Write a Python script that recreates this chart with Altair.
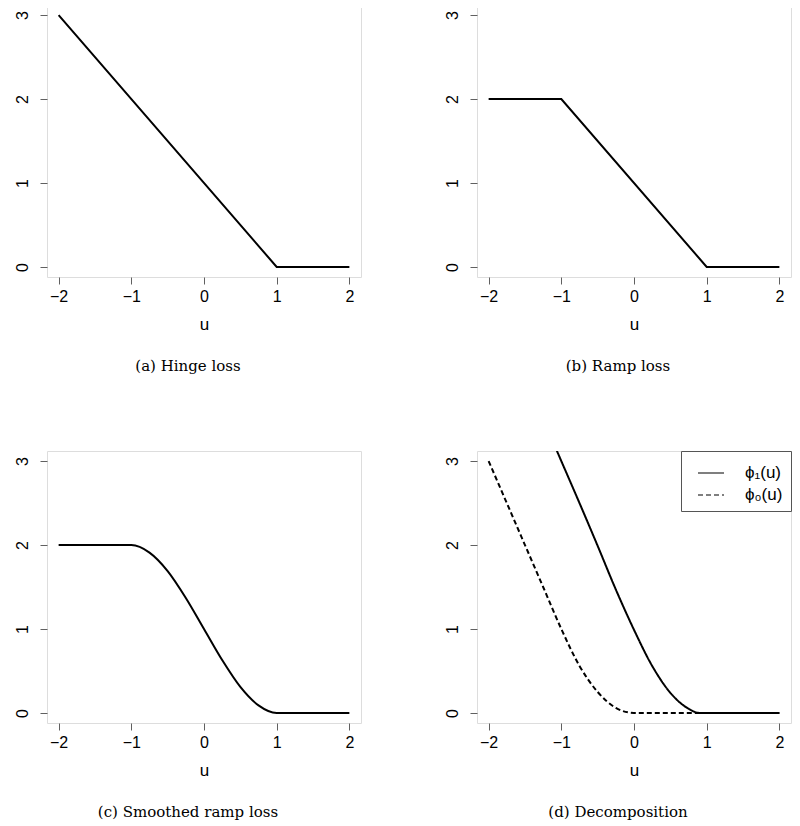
import altair as alt
import pandas as pd

# ---- data ----
u_hinge = [-2, 1, 2]
v_hinge = [3, 0, 0]

u_ramp = [-2, -1, 1, 2]
v_ramp = [2, 2, 0, 0]

u_smooth = [-2, -1, -0.75, -0.5, -0.25, 0, 0.25, 0.5, 0.75, 1, 2]
v_smooth = [2, 2, 1.91, 1.69, 1.37, 1.0, 0.63, 0.31, 0.09, 0, 0]

u_phi1 = [-1.25, -1, -0.75, -0.5, -0.25, 0, 0.25, 0.5, 0.75, 0.9, 2]
v_phi1 = [3.50, 3.00, 2.50, 1.99, 1.47, 0.99, 0.56, 0.24, 0.05, 0, 0]

u_phi0 = [-2, -1.75, -1.5, -1.25, -1, -0.75, -0.5, -0.25, 0, 2]
v_phi0 = [3, 2.5, 2.0, 1.5, 1.0, 0.56, 0.25, 0.06, 0, 0]

captions = ["(a) Hinge loss", "(b) Ramp loss", "(c) Smoothed ramp loss", "(d) Decomposition"]
series_names = ["ϕ₁(u)", "ϕ₀(u)"]
x_ticks = [-2, -1, 0, 1, 2]
y_ticks = [0, 1, 2, 3]

W, H = 314, 272
SANS = "Liberation Sans"
SERIF = "DejaVu Serif"
GRAY = "#606060"

xs = alt.Scale(domain=[-2.16, 2.16], nice=False, zero=False)
ys = alt.Scale(domain=[-0.12, 3.12], nice=False, zero=False)
xax = alt.Axis(values=x_ticks, title="u", format="d", grid=False, domain=False,
               tickColor=GRAY, tickSize=7, labelPadding=4, labelFont=SANS,
               labelFontSize=16, labelColor="black", titleFont=SANS,
               titleFontSize=17, titleFontWeight="normal", titleColor="black",
               titlePadding=12)
yax = alt.Axis(values=y_ticks, title=None, format="d", grid=False, domain=False,
               tickColor=GRAY, tickSize=7, labelPadding=13, labelFont=SANS,
               labelFontSize=16, labelColor="black", labelAngle=270,
               labelAlign="center", labelBaseline="alphabetic")


def line_layer(u, v, interp):
    df = pd.DataFrame({"u": u, "v": v})
    return alt.Chart(df).mark_line(color="black", strokeWidth=2, clip=True,
                                   interpolate=interp).encode(
        x=alt.X("u:Q", scale=xs, axis=xax),
        y=alt.Y("v:Q", scale=ys, axis=yax),
    )


def caption_layer(text):
    return alt.Chart(pd.DataFrame({"t": [text]})).mark_text(
        font=SERIF, fontSize=15, align="center", baseline="middle", color="black"
    ).encode(text="t:N", x=alt.value(W / 2 - 16), y=alt.value(H + 89))


pa = alt.layer(line_layer(u_hinge, v_hinge, "linear"), caption_layer(captions[0])).properties(width=W, height=H)
pb = alt.layer(line_layer(u_ramp, v_ramp, "linear"), caption_layer(captions[1])).properties(width=W, height=H)
pc = alt.layer(line_layer(u_smooth, v_smooth, "monotone"), caption_layer(captions[2])).properties(width=W, height=H)

df_d = pd.concat([
    pd.DataFrame({"u": u_phi1, "v": v_phi1, "s": series_names[0]}),
    pd.DataFrame({"u": u_phi0, "v": v_phi0, "s": series_names[1]}),
])
lines_d = alt.Chart(df_d).mark_line(color="black", strokeWidth=2, clip=True,
                                    interpolate="monotone").encode(
    x=alt.X("u:Q", scale=xs, axis=xax),
    y=alt.Y("v:Q", scale=ys, axis=yax),
    strokeDash=alt.StrokeDash(
        "s:N",
        scale=alt.Scale(domain=series_names, range=[[1, 0], [5, 3]]),
        legend=alt.Legend(title=None, orient="top-right", offset=0, padding=8,
                          strokeColor="#555555", fillColor="white", cornerRadius=0,
                          symbolType="stroke", symbolSize=676, symbolStrokeWidth=1.1,
                          symbolOffset=8, symbolStrokeColor="black",
                          labelFont=SANS, labelFontSize=17, labelColor="black",
                          labelOffset=20, rowPadding=-5),
    ),
)
pd_ = alt.layer(lines_d, caption_layer(captions[3])).properties(width=W, height=H)

chart = alt.concat(pa, pb, pc, pd_, columns=2, bounds="flush",
                   spacing={"row": 174, "column": 116}).resolve_legend(
    strokeDash="independent"
).properties(
    padding={"left": 5, "top": -4, "right": 0, "bottom": 0}
).configure_view(stroke=GRAY, strokeWidth=1).configure(background="white")

chart.save("out.html", embed_options={"renderer": "svg", "actions": False})
